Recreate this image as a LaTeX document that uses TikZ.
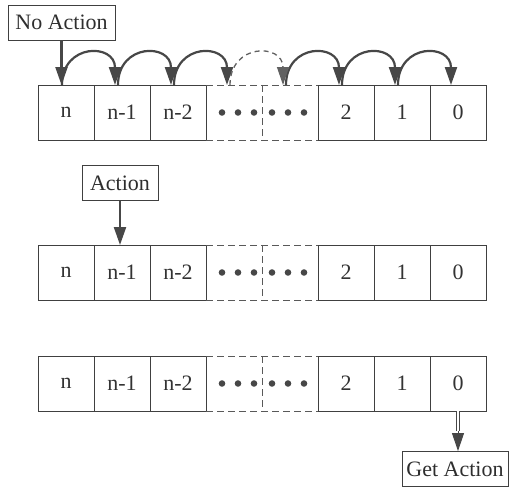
\documentclass[tikz,border=0pt]{standalone}
\usepackage{fontspec}
\setmainfont{Liberation Serif}
\usetikzlibrary{arrows.meta}
\begin{document}
\begin{tikzpicture}[x=1pt,y=-1pt,
  cell/.style={minimum width=56pt,minimum height=55pt,inner sep=0pt,outer sep=0pt,
    anchor=north west,font=\fontsize{22}{26}\selectfont,text=black!80},
  solidcell/.style={cell,draw=black!75,line width=0.9pt},
  gapcell/.style={cell},
  gapline/.style={draw=black!65,line width=0.8pt,dash pattern=on 7pt off 4pt},
  tag/.style={draw=black!75,line width=0.9pt,inner sep=0pt,minimum height=35pt,
    font=\fontsize{22}{26}\selectfont,text=black!82},
  tip/.style={-{Triangle[length=18pt,width=12pt]}},
  push/.style={draw=black!72,line width=2.2pt,tip},
  hop/.style={draw=black!72,line width=2.2pt,tip},
  skip/.style={draw=black!62,line width=1.3pt,dash pattern=on 5pt off 4pt,tip},
  pull/.style={draw=black!72,line width=0.8pt,double=white,double distance=1.8pt},
  pulltip/.style={draw=black!72,fill=black!72,line width=1pt,tip},
  dot/.style={fill=black!72}
]
\useasboundingbox (0,0) rectangle (510,487);

% three copies of the queue: cells n ... 0 with an elided middle part
\foreach \r/\top in {1/85,2/245,3/356}{
  \foreach \i/\t in {0/n,1/n-1,2/n-2,5/2,6/1,7/0}
    \node[solidcell] (r\r c\i) at ({38+56*\i},\top) {\t};
  \foreach \i in {3,4}
    \node[gapcell] (r\r c\i) at ({38+56*\i},\top) {};
  \draw[gapline] (r\r c3.north west) -- (r\r c4.north east);
  \draw[gapline] (r\r c3.south west) -- (r\r c4.south east);
  \draw[gapline] (r\r c3.north east) -- (r\r c3.south east);
  \foreach \dx in {16,32,48}
    \fill[dot] ([xshift=\dx pt]r\r c3.west) circle (3.3pt);
  \foreach \dx in {10,26,42}
    \fill[dot] ([xshift=\dx pt]r\r c4.west) circle (3.3pt);
}

% labels
\node[tag,minimum width=107pt] (noact) at (61.5,22.5) {No Action};
\node[tag,minimum width=76pt] (act) at (120,183) {Action};
\node[tag,minimum width=106pt] (get) at (455,469) {Get Action};

% entry arrows
\draw[push] (noact.south) -- (noact.south |- r1c0.north);
\draw[push] (act.south) -- (act.south |- r2c1.north);

% shifting of every element one place to the right
\foreach \i/\j in {0/1,1/2,2/3,4/5,5/6,6/7}
  \draw[hop] ([xshift=24pt]r1c\i.north west) .. controls +(0,-42) and +(0,-42) .. ([xshift=21pt]r1c\j.north west);
\draw[skip] ([xshift=24pt]r1c3.north west) .. controls +(0,-42) and +(0,-42) .. ([xshift=21pt]r1c4.north west);

% output: double shaft with a solid head
\path (r3c7.south) -- (r3c7.south |- get.north) coordinate[pos=0.5] (pullhead);
\draw[pull] (r3c7.south) -- (pullhead);
\draw[pulltip] (pullhead) -- (r3c7.south |- get.north);
\end{tikzpicture}
\end{document}
